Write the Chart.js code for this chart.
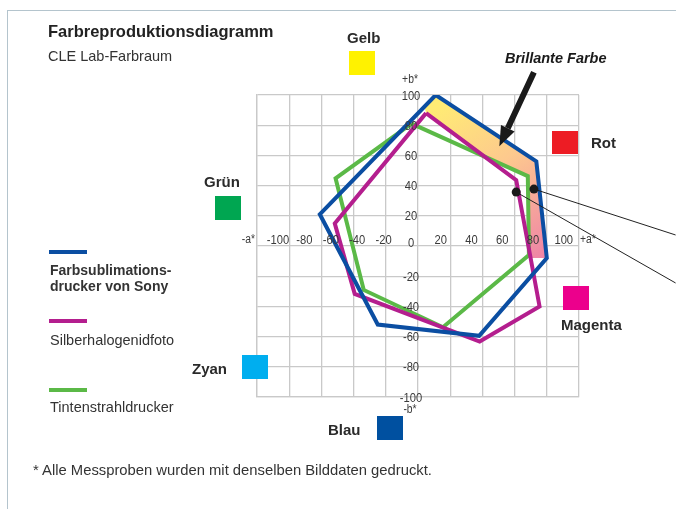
<!DOCTYPE html>
<html lang="de">
<head>
<meta charset="utf-8">
<title>Farbreproduktionsdiagramm</title>
<script src="https://cdn.jsdelivr.net/npm/chart.js@4.4.1/dist/chart.umd.min.js"></script>
<style>
  html, body { margin: 0; padding: 0; background: #fff; }
  body { width: 676px; height: 509px; position: relative; overflow: hidden;
         font-family: 'Liberation Sans', Arial, sans-serif; color: #2b2b2b; }
  #chart { position: absolute; left: 0; top: 0; }
  .abs { position: absolute; white-space: nowrap; }
  .frame { left: 7px; top: 10px; right: -10px; bottom: -10px;
           border-top: 1.5px solid #b4c4cd; border-left: 1.5px solid #b4c4cd; }
  .title { left: 48px; top: 21px; font-size: 16.5px; font-weight: bold; line-height: 20px; color: #222; }
  .sub { left: 48px; top: 47px; font-size: 14.5px; line-height: 18px; color: #333; }
  .swatch { position: absolute; width: 26px; height: 24px; }
  .cname { position: absolute; font-size: 15px; font-weight: bold; line-height: 18px; color: #2a2a2a; }
  .lgline { position: absolute; left: 49px; width: 38px; height: 4px; }
  .lgtext { position: absolute; left: 50px; font-size: 14.5px; line-height: 16px; color: #333; }
  .note { left: 33px; top: 461px; font-size: 14.8px; line-height: 18px; color: #333; }
  .brill { left: 505px; top: 49px; font-size: 14.5px; font-weight: bold; font-style: italic; line-height: 18px; color: #1a1a1a; }
</style>
</head>
<body>
<div class="abs frame"></div>
<canvas id="chart" width="676" height="509"></canvas>

<div class="abs title">Farbreproduktionsdiagramm</div>
<div class="abs sub">CLE Lab-Farbraum</div>

<div class="cname" style="left:347px; top:29px;">Gelb</div>
<div class="swatch" style="left:349px; top:51px; background:#fff200;"></div>
<div class="swatch" style="left:552px; top:131px; height:23px; background:#ed1c24;"></div>
<div class="cname" style="left:591px; top:134px;">Rot</div>
<div class="cname" style="left:204px; top:173px;">Grün</div>
<div class="swatch" style="left:215px; top:196px; background:#00a651;"></div>
<div class="cname" style="left:192px; top:360px;">Zyan</div>
<div class="swatch" style="left:242px; top:355px; background:#00aeef;"></div>
<div class="swatch" style="left:563px; top:286px; background:#ec008c;"></div>
<div class="cname" style="left:561px; top:316px;">Magenta</div>
<div class="cname" style="left:328px; top:421px;">Blau</div>
<div class="swatch" style="left:377px; top:416px; background:#0050a0;"></div>

<div class="lgline" style="top:250px; background:#0b4ea2;"></div>
<div class="lgtext" style="top:262px; font-weight:bold; font-size:14px;">Farbsublimations-<br>drucker von Sony</div>
<div class="lgline" style="top:319px; background:#b41e8e;"></div>
<div class="lgtext" style="top:332px;">Silberhalogenidfoto</div>
<div class="lgline" style="top:388px; background:#5bb947;"></div>
<div class="lgtext" style="top:399px;">Tintenstrahldrucker</div>

<div class="abs brill">Brillante Farbe</div>
<div class="abs note">* Alle Messproben wurden mit denselben Bilddaten gedruckt.</div>

<script>
// Lab gamut polygons (a*, b*)
const sonyA = [11, 73.5, 80, 38, -25, -61];
const sonyB = [100, 56, -8, -59.5, -52, 21];
const silverA = [5, 61, 75.5, 38.3, -39.3, -51.7];
const silverB = [88, 43.6, -40, -63.3, -31.7, 15];
const inkA = [-4, 68.2, 68.9, 15.5, -33.7, -51.2];
const inkB = [81, 46.3, -6, -53.8, -29.1, 44.8];

// "Brillante Farbe" region between the Sony gamut and the others
const brilA = [4, 11, 73.5, 80, 70, 68.8, 68.2, 41.3, 5];
const brilB = [92.3, 100, 56, -8, -8, -1, 46.3, 59.3, 88];

// marker dots and where their leader lines run off the right edge
const markA = [61, 72];
const markB = [35.7, 37.7];
const leaderEndA = [160, 160];
const leaderEndB = [-24.5, 7.3];

// arrow pointing at the region
const arrowTail = [72, 115];
const arrowTip = [50.5, 66];

const aTicks = [-100, -80, -60, -40, -20, 20, 40, 60, 80, 100];
const bTicks = [100, 80, 60, 40, 20, 0, -20, -40, -60, -80, -100];

function closed(a, b) {
    const pts = a.map((v, i) => ({ x: v, y: b[i] }));
    pts.push(pts[0]);
    return pts;
}

function brillGradient(context) {
    const chart = context.chart;
    const { x, y } = chart.scales;
    if (!chart.chartArea || !x || !y) return '#fcc890';
    const g = chart.ctx.createLinearGradient(
        x.getPixelForValue(15), y.getPixelForValue(95),
        x.getPixelForValue(80), y.getPixelForValue(-5));
    g.addColorStop(0, '#ffec74');
    g.addColorStop(0.45, '#fdc98e');
    g.addColorStop(1, '#ef85a6');
    return g;
}

// condensed text, the print uses a narrow face
function narrowText(ctx, text, px, py, align) {
    const squeeze = 0.86;
    ctx.save();
    ctx.translate(px, py);
    ctx.scale(squeeze, 1);
    ctx.textAlign = align || 'center';
    ctx.fillText(text, 0, 0);
    ctx.restore();
}

const axisLabels = {
    id: 'axisLabels',
    afterDatasetsDraw(chart) {
        const { ctx, scales: { x, y } } = chart;
        const x0 = x.getPixelForValue(0);
        const y0 = y.getPixelForValue(0);
        ctx.save();
        ctx.fillStyle = '#3a3a3a';
        ctx.textBaseline = 'middle';
        ctx.font = "13px 'Liberation Sans', sans-serif";
        bTicks.forEach(v => {
            narrowText(ctx, String(v), x0 - 7, v === 0 ? y0 - 3 : y.getPixelForValue(v) + 1);
        });
        aTicks.forEach(v => {
            const k = v < 0 ? 0.82 : 0.955;
            const px = x0 - 8 + (x.getPixelForValue(v) - x0) * k;
            narrowText(ctx, String(v), px, y0 - 6);
        });
        ctx.font = "12px 'Liberation Sans', sans-serif";
        narrowText(ctx, '+b*', x0 - 8, y.getPixelForValue(100) - 15);
        narrowText(ctx, '-b*', x0 - 8, y.getPixelForValue(-100) + 13);
        narrowText(ctx, '-a*', x.getPixelForValue(-100) - 2, y0 - 6, 'right');
        narrowText(ctx, '+a*', x.getPixelForValue(100) + 1, y0 - 6, 'left');

        // arrow
        const tx = x.getPixelForValue(arrowTail[0]), ty = y.getPixelForValue(arrowTail[1]);
        const hx = x.getPixelForValue(arrowTip[0]), hy = y.getPixelForValue(arrowTip[1]);
        const ang = Math.atan2(hy - ty, hx - tx);
        const headLen = 20, headHalf = 7.5;
        const bx = hx - headLen * Math.cos(ang), by = hy - headLen * Math.sin(ang);
        ctx.strokeStyle = '#1a1a1a';
        ctx.fillStyle = '#1a1a1a';
        ctx.lineWidth = 6;
        ctx.beginPath();
        ctx.moveTo(tx, ty);
        ctx.lineTo(bx, by);
        ctx.stroke();
        ctx.beginPath();
        ctx.moveTo(hx, hy);
        ctx.lineTo(bx + headHalf * Math.sin(ang), by - headHalf * Math.cos(ang));
        ctx.lineTo(bx - headHalf * Math.sin(ang), by + headHalf * Math.cos(ang));
        ctx.closePath();
        ctx.fill();
        ctx.restore();
    }
};

const polyStyle = (color, order) => ({
    showLine: true,
    borderColor: color,
    borderWidth: 4,
    borderJoinStyle: 'miter',
    pointRadius: 0,
    fill: false,
    tension: 0,
    order
});

const gridLine = { color: '#c9c9c9', lineWidth: 1.3, drawTicks: false };

new Chart(document.getElementById('chart'), {
    type: 'scatter',
    data: {
        datasets: [
            { label: 'Brillante Farbe', data: closed(brilA, brilB), showLine: true,
              borderWidth: 0, pointRadius: 0, fill: 'shape', backgroundColor: brillGradient, order: 5 },
            { label: 'Tintenstrahldrucker', data: closed(inkA, inkB), ...polyStyle('#5bb947', 4) },
            { label: 'Silberhalogenidfoto', data: closed(silverA, silverB), ...polyStyle('#b41e8e', 3) },
            { label: 'Farbsublimationsdrucker von Sony', data: closed(sonyA, sonyB), ...polyStyle('#0b4ea2', 2) },
            { label: 'leader1', data: [{ x: markA[0], y: markB[0] }, { x: leaderEndA[0], y: leaderEndB[0] }],
              showLine: true, borderColor: '#222', borderWidth: 1, pointRadius: 0, clip: false, order: 1 },
            { label: 'leader2', data: [{ x: markA[1], y: markB[1] }, { x: leaderEndA[1], y: leaderEndB[1] }],
              showLine: true, borderColor: '#222', borderWidth: 1, pointRadius: 0, clip: false, order: 1 },
            { label: 'marks', data: markA.map((v, i) => ({ x: v, y: markB[i] })),
              pointRadius: 4.5, backgroundColor: '#1a1a1a', borderWidth: 0, order: 0 }
        ]
    },
    options: {
        responsive: false,
        animation: false,
        devicePixelRatio: 1,
        layout: { padding: { left: 257, right: 97, top: 95, bottom: 112 } },
        plugins: { legend: { display: false }, tooltip: { enabled: false } },
        scales: {
            x: { type: 'linear', min: -100, max: 100,
                 ticks: { stepSize: 20, display: false },
                 grid: gridLine, border: { display: true, color: '#c9c9c9', width: 1.3 } },
            y: { type: 'linear', min: -100, max: 100,
                 ticks: { stepSize: 20, display: false },
                 grid: gridLine, border: { display: true, color: '#c9c9c9', width: 1.3 } }
        }
    },
    plugins: [axisLabels]
});
</script>
</body>
</html>
